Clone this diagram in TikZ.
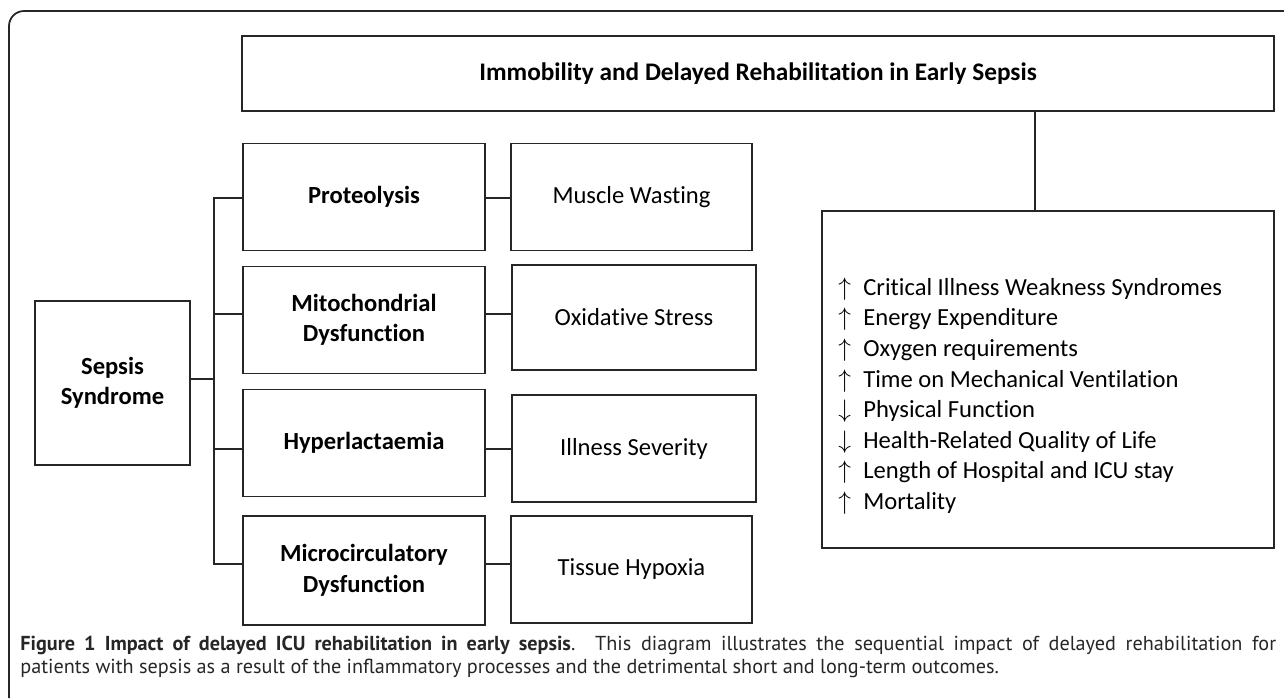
\documentclass[tikz,border=0pt]{standalone}
\usepackage{fontspec}
\setmainfont{Carlito}[Ligatures=NoCommon]
\newfontfamily\capfont{PT Sans}
\usetikzlibrary{positioning}
\newcommand{\upmark}{\makebox[0.5cm][l]{$\uparrow$}}
\newcommand{\downmark}{\makebox[0.5cm][l]{$\downarrow$}}

\begin{document}
\begin{tikzpicture}[x=0.02cm,y=-0.02cm,
  box/.style={draw=black!85,line width=1pt,align=center,inner sep=0pt,font=\fontsize{14}{17.4}\selectfont},
  causebox/.style={box,minimum width=4.84cm,minimum height=2.14cm,font=\fontsize{14}{17.4}\selectfont\bfseries},
  effectbox/.style={box,minimum height=2.14cm},
  link/.style={draw=black!85,line width=1pt}]

\useasboundingbox (0,0) rectangle (1284,698);
\draw[link,rounded corners=0.3cm] (9,698) -- (9,11) -- (1284,11);

\node[box,font=\fontsize{14.4}{17.4}\selectfont\bfseries,minimum width=20.64cm,minimum height=1.5cm]
 (immob) at (758,73.5) {Immobility and Delayed Rehabilitation in Early Sepsis};
\node[box,minimum width=9.04cm,minimum height=6.74cm] (outc) at (1048,379.5) {};
\node[anchor=west,align=left,inner sep=0pt,font=\fontsize{14}{17.4}\selectfont] (outlist) at (838,396)
 {\upmark Critical Illness Weakness Syndromes\\
  \upmark Energy Expenditure\\
  \upmark Oxygen requirements\\
  \upmark Time on Mechanical Ventilation\\
  \downmark Physical Function\\
  \downmark Health-Related Quality of Life\\
  \upmark Length of Hospital and ICU stay\\
  \upmark Mortality};

\node[box,font=\fontsize{14}{17.4}\selectfont\bfseries,minimum width=3.1cm,minimum height=3.28cm]
 (sepsis) at (112.5,383) {Sepsis\\Syndrome};

\node[causebox] (prot) at (364,197) {Proteolysis};
\node[causebox] (mito) at (364,320) {Mitochondrial\\Dysfunction};
\node[causebox] (hyper) at (364,443) {Hyperlactaemia};
\node[causebox,minimum height=2.18cm] (micro) at (364,570.5) {Microcirculatory\\Dysfunction};

\node[effectbox,minimum width=4.82cm] (musc) at (631.5,197) {Muscle Wasting};
\node[effectbox,minimum width=4.88cm,minimum height=2.1cm] (oxid) at (634,317.5) {Oxidative Stress};
\node[effectbox,minimum width=4.88cm] (ill) at (634,448.5) {Illness Severity};
\node[effectbox,minimum width=4.82cm] (tiss) at (631.5,569.5) {Tissue Hypoxia};

\coordinate (trunktop) at (214,198);
\coordinate (trunkbot) at (214,564);
\coordinate (j2) at (214,314);
\coordinate (j3) at (214,449);
\coordinate (drop) at (1035,111);

\draw[link] (sepsis.east |- 0,379) -- (trunktop |- 0,379);
\draw[link] (prot.west |- trunktop) -- (trunktop) -- (trunkbot) -- (micro.west |- trunkbot);
\draw[link] (j2) -- (mito.west |- j2);
\draw[link] (j3) -- (hyper.west |- j3);
\draw[link] (prot.east |- trunktop) -- (musc.west |- trunktop);
\draw[link] (mito.east |- j2) -- (oxid.west |- j2);
\draw[link] (hyper.east |- j3) -- (ill.west |- j3);
\draw[link] (micro.east |- trunkbot) -- (tiss.west |- trunkbot);
\draw[link] (immob.south -| drop) -- (outc.north -| drop);

\node[anchor=north west,inner sep=0pt,text width=25.12cm,align=justify,
 font=\capfont\fontsize{11.5}{13}\selectfont,text=black!85] (caption) at (20,636)
 {\textbf{Figure 1 Impact of delayed ICU rehabilitation in early sepsis}. This diagram illustrates the sequential impact of delayed rehabilitation for\linebreak
 patients with sepsis as a result of the inflammatory processes and the detrimental short and long-term outcomes.};
\end{tikzpicture}
\end{document}
